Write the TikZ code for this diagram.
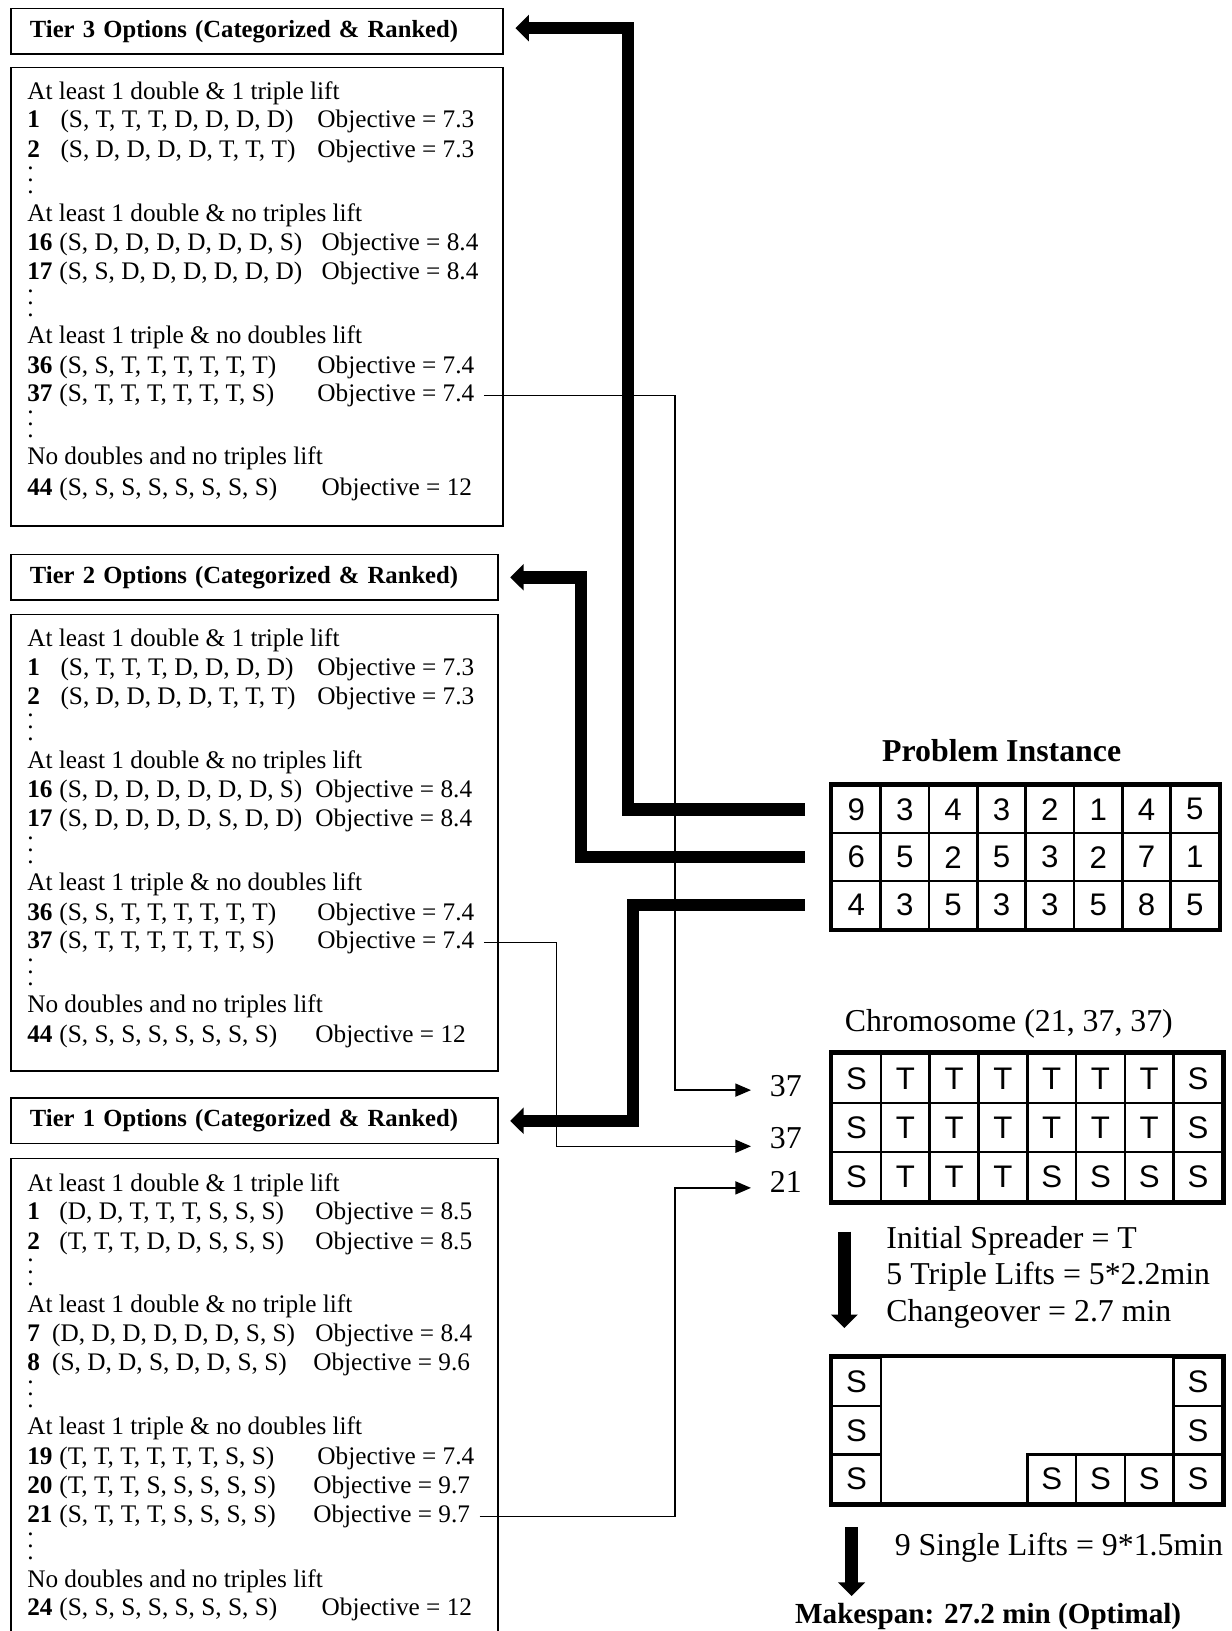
\documentclass[tikz,border=0pt]{standalone}
\usepackage{fontspec}
\setmainfont{Liberation Serif}
\newfontfamily\cellfont{Liberation Sans}
\usetikzlibrary{arrows.meta,positioning}

\newcommand{\listfont}{\fontsize{24.3}{28}\selectfont}
\newcommand{\bigfont}{\fontsize{30.6}{35}\selectfont}

% one ranked option: name, baseline, number, tuple x, tuple, objective x, value
\newcommand{\optrow}[7]{%
  \node[opttext, font=\listfont\bfseries] (#1n) at (26,#2) {#3};
  \node[opttext] (#1t) at (#4,#2) {#5};
  \node[opttext] (#1o) at (#6,#2) {Objective = #7};}
\newcommand{\opthead}[3]{\node[opttext] (#1) at (26,#2) {#3};}
\newcommand{\optdots}[2]{\node[opttext] (#1) at (26,#2)
  {\vbox{\baselineskip=11.5pt\lineskiplimit=0pt\hbox{.}\hbox{.}\hbox{.}}};}

\begin{document}
\begin{tikzpicture}[x=1pt, y=-1pt,
    opttext/.style={anchor=base west, inner sep=0pt, font=\listfont},
    titlebox/.style={draw, line width=1.5pt, anchor=west, minimum height=44pt,
      inner xsep=18pt, align=left, font=\fontsize{23.7}{28}\selectfont\bfseries},
    listbox/.style={draw, line width=1.5pt, anchor=north west, inner sep=0pt},
    cell/.style={draw, line width=2.5pt, inner sep=0pt,
      font=\cellfont\fontsize{30}{30}\selectfont},
    gridframe/.style={line width=4pt},
    bigtext/.style={anchor=base west, inner sep=0pt, font=\bigfont},
    bigarrow/.style={line width=12pt, -{Triangle[length=13pt, width=25pt]}},
    thinarrow/.style={line width=1.4pt, -{Triangle[length=15pt, width=12.5pt]}},
  ]
  \clip (0,0) rectangle (1184,1568);

  % ========= TIER 3 =========
  \node[titlebox, text width=437pt] (t3title) at (10,30) {Tier 3 Options (Categorized \& Ranked)};
  \node[listbox, minimum width=473pt, minimum height=441pt] (t3list) at (10,64) {};
  \opthead{t3h1}{96}{At least 1 double \& 1 triple lift}
  \optrow{t3r1}{123}{1}{58}{(S, T, T, T, D, D, D, D)}{305}{7.3}
  \optrow{t3r2}{151}{2}{58}{(S, D, D, D, D, T, T, T)}{305}{7.3}
  \optdots{t3d1}{186}
  \opthead{t3h2}{213}{At least 1 double \& no triples lift}
  \optrow{t3r16}{241}{16}{57}{(S, D, D, D, D, D, D, S)}{309}{8.4}
  \optrow{t3r17}{269}{17}{57}{(S, S, D, D, D, D, D, D)}{309}{8.4}
  \optdots{t3d2}{304}
  \opthead{t3h3}{330}{At least 1 triple \& no doubles lift}
  \optrow{t3r36}{359}{36}{57}{(S, S, T, T, T, T, T, T)}{305}{7.4}
  \optrow{t3r37}{386}{37}{57}{(S, T, T, T, T, T, T, S)}{305}{7.4}
  \optdots{t3d3}{421}
  \opthead{t3h4}{447}{No doubles and no triples lift}
  \optrow{t3r44}{476}{44}{57}{(S, S, S, S, S, S, S, S)}{309}{12}

  % ========= TIER 2 =========
  \begin{scope}[shift={(0,526)}]
  \node[titlebox, text width=432pt] (t2title) at (10,29) {Tier 2 Options (Categorized \& Ranked)};
  \node[listbox, minimum width=468pt, minimum height=439pt] (t2list) at (10,64) {};
  \opthead{t2h1}{96}{At least 1 double \& 1 triple lift}
  \optrow{t2r1}{123}{1}{58}{(S, T, T, T, D, D, D, D)}{305}{7.3}
  \optrow{t2r2}{151}{2}{58}{(S, D, D, D, D, T, T, T)}{305}{7.3}
  \optdots{t2d1}{186}
  \opthead{t2h2}{213}{At least 1 double \& no triples lift}
  \optrow{t2r16}{241}{16}{57}{(S, D, D, D, D, D, D, S)}{303}{8.4}
  \optrow{t2r17}{269}{17}{57}{(S, D, D, D, D, S, D, D)}{303}{8.4}
  \optdots{t2d2}{304}
  \opthead{t2h3}{330}{At least 1 triple \& no doubles lift}
  \optrow{t2r36}{359}{36}{57}{(S, S, T, T, T, T, T, T)}{305}{7.4}
  \optrow{t2r37}{386}{37}{57}{(S, T, T, T, T, T, T, S)}{305}{7.4}
  \optdots{t2d3}{421}
  \opthead{t2h4}{447}{No doubles and no triples lift}
  \optrow{t2r44}{476}{44}{57}{(S, S, S, S, S, S, S, S)}{303}{12}
  \end{scope}

  % ========= TIER 1 =========
  \begin{scope}[shift={(0,1049)}]
  \node[titlebox, text width=432pt] (t1title) at (10,28.5) {Tier 1 Options (Categorized \& Ranked)};
  \node[listbox, minimum width=468pt, minimum height=600pt] (t1list) at (10,64) {};
  \opthead{t1h1}{96}{At least 1 double \& 1 triple lift}
  \optrow{t1r1}{123}{1}{57}{(D, D, T, T, T, S, S, S)}{303}{8.5}
  \optrow{t1r2}{152}{2}{57}{(T, T, T, D, D, S, S, S)}{303}{8.5}
  \optdots{t1d1}{187}
  \opthead{t1h2}{213}{At least 1 double \& no triple lift}
  \optrow{t1r7}{241}{7}{50}{(D, D, D, D, D, D, S, S)}{303}{8.4}
  \optrow{t1r8}{269}{8}{50}{(S, D, D, S, D, D, S, S)}{301}{9.6}
  \optdots{t1d2}{304}
  \opthead{t1h3}{330}{At least 1 triple \& no doubles lift}
  \optrow{t1r19}{359}{19}{57}{(T, T, T, T, T, T, S, S)}{305}{7.4}
  \optrow{t1r20}{387}{20}{57}{(T, T, T, S, S, S, S, S)}{301}{9.7}
  \optrow{t1r21}{415}{21}{57}{(S, T, T, T, S, S, S, S)}{301}{9.7}
  \optdots{t1d3}{450}
  \opthead{t1h4}{477}{No doubles and no triples lift}
  \optrow{t1r24}{504}{24}{57}{(S, S, S, S, S, S, S, S)}{309}{12}
  \end{scope}

  % ========= PROBLEM INSTANCE =========
  \node[bigtext, font=\bigfont\bfseries, anchor=base] (pititle) at (963,732) {Problem Instance};
  \foreach \row [count=\r] in {{9,3,4,3,2,1,4,5},{6,5,2,5,3,2,7,1},{4,3,5,3,3,5,8,5}}
    \foreach \v [count=\c] in \row
      \node[cell, minimum width=46.5pt, minimum height=46pt] (p\r\c)
        at ({800+46.5*(\c-0.5)},{755+46*(\r-0.5)}) {\v};
  \draw[gridframe] (p11.north west) rectangle (p38.south east);

  % ========= CHROMOSOME =========
  \node[bigtext] (chtitle) at (812,992) {Chromosome (21, 37, 37)};
  \foreach \row [count=\r] in {{S,T,T,T,T,T,T,S},{S,T,T,T,T,T,T,S},{S,T,T,T,S,S,S,S}}
    \foreach \v [count=\c] in \row
      \node[cell, minimum width=46.9pt, minimum height=47.3pt] (c\r\c)
        at ({800+46.9*(\c-0.5)},{1013+47.3*(\r-0.5)}) {\v};
  \draw[gridframe] (c11.north west) rectangle (c38.south east);

  \node[bigtext] (in1) at (740,1054) {37};
  \node[bigtext] (in2) at (740,1104) {37};
  \node[bigtext] (in3) at (740,1146) {21};
  \coordinate (e1) at (722,1048);
  \coordinate (e2) at (722,1102);
  \coordinate (e3) at (722,1142);

  % ========= REMAINING SINGLES =========
  \foreach \r/\c in {1/1,2/1,3/1,1/8,2/8,3/8,3/5,3/6,3/7}
    \node[cell, minimum width=46.9pt, minimum height=46.7pt] (s\r\c)
      at ({800+46.9*(\c-0.5)},{1305+46.7*(\r-0.5)}) {S};
  \draw[gridframe] (s11.north west) rectangle (s38.south east);

  \node[bigtext] (sp1) at (852,1200) {Initial Spreader = T};
  \node[bigtext] (sp2) at (852,1235) {5 Triple Lifts = 5*2.2min};
  \node[bigtext] (sp3) at (852,1270) {Changeover = 2.7 min};
  \node[bigtext] (single) at (860,1495) {9 Single Lifts = 9*1.5min};
  \node[bigtext, font=\fontsize{28}{32}\selectfont\bfseries, anchor=base] (mkspan)
    at (950,1561) {Makespan: 27.2 min (Optimal)};

  % rows to tiers
  \draw[bigarrow] ([xshift=-25pt]p11.west) -- ++(-170,0) |- ([xshift=11pt,yshift=3pt]t3title.east);
  \draw[bigarrow] ([xshift=-25pt]p21.west) -- ++(-215,0) |- ([xshift=11pt]t2title.east);
  \draw[bigarrow] ([xshift=-25pt]p31.west) -- ++(-165,0) |- ([xshift=11pt]t1title.east);

  % chosen options to genes
  \draw[thinarrow] ([xshift=9pt]t3r37o.east) -| ([xshift=-73pt]e1) -- (e1);
  \draw[thinarrow] ([xshift=9pt]t2r37o.east) -| ([xshift=-187pt]e2) -- (e2);
  \draw[thinarrow] ([xshift=9pt]t1r21o.east) -| ([xshift=-73pt]e3) -- (e3);

  % steps
  \draw[bigarrow] ([xshift=13pt,yshift=-28pt]c31.south west) -- ([xshift=13pt,yshift=27pt]s11.north west);
  \draw[bigarrow] ([xshift=20pt,yshift=-22pt]s31.south west) -- ++(0,66);
\end{tikzpicture}
\end{document}
